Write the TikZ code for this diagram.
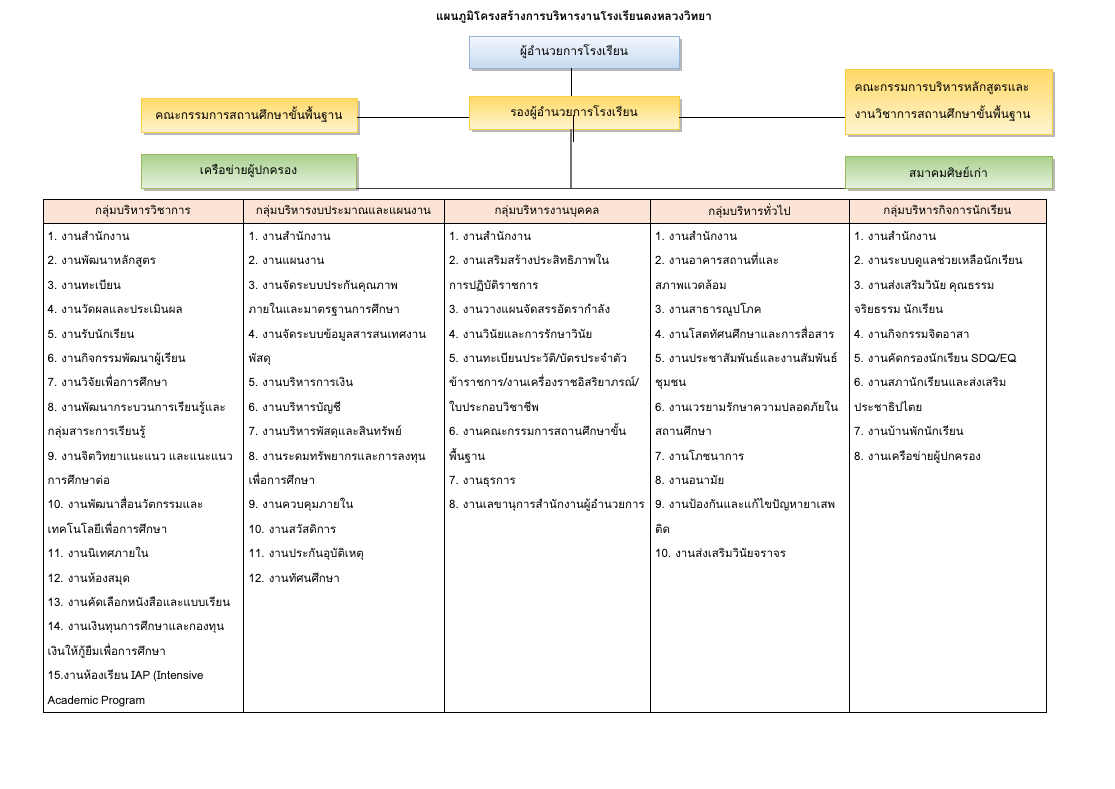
\documentclass[tikz,border=0pt]{standalone}
\usepackage{fontspec}
\newfontfamily\thai[Script=Thai]{Loma}
\newfontfamily\thaitab[Script=Thai,WordSpace=0.75]{Loma}
\usetikzlibrary{shadows}
\definecolor{hdr}{HTML}{FBE4D5}
\definecolor{ytop}{HTML}{FFD966}
\definecolor{ybot}{HTML}{FFF4D0}
\definecolor{yline}{HTML}{F9CF4A}
\definecolor{btop}{HTML}{F4F8FD}
\definecolor{bbot}{HTML}{C6D9F0}
\definecolor{bline}{HTML}{95B3D7}
\definecolor{gtop}{HTML}{A9D18E}
\definecolor{gbot}{HTML}{E6F0DD}
\definecolor{gline}{HTML}{9BBB59}
\begin{document}
\begin{tikzpicture}[x=1pt,y=-1pt,
  box/.style={draw, line width=0.8pt, inner sep=0pt, outer sep=0pt, font=\thai\fontsize{12}{14}\selectfont,
    drop shadow={shadow xshift=2.5pt, shadow yshift=-2.5pt, fill=black!28, opacity=1}},
  ybox/.style={box, draw=yline, top color=ytop, bottom color=ybot},
  bbox/.style={box, draw=bline, top color=btop, bottom color=bbot},
  gbox/.style={box, draw=gline, top color=gtop, bottom color=gbot},
  conn/.style={draw=black, line width=0.8pt},
  hcell/.style={draw=black, line width=0.7pt, fill=hdr, inner sep=0pt, outer sep=0pt, anchor=north west,
    minimum height=24pt, font=\thaitab\fontsize{11.5}{14}\selectfont},
  bcell/.style={draw=black, line width=0.7pt, inner sep=0pt, outer sep=0pt, anchor=north west, minimum height=489pt},
  item/.style={anchor=base west, inner sep=0pt, font=\thaitab\fontsize{11.5}{14}\selectfont}
]
\useasboundingbox (0,0) rectangle (1115,788);
\fill[white] (0,0) rectangle (1115,788);

\node[font=\thai\bfseries\fontsize{11.7}{14}\selectfont] (title) at (574,17) {แผนภูมิโครงสร้างการบริหารงานโรงเรียนดงหลวงวิทยา};

\node[bbox, minimum width=210pt, minimum height=32pt] (director) at (574,52) {ผู้อำนวยการโรงเรียน};
\node[ybox, minimum width=210pt, minimum height=33pt] (vice) at (574,112.5) {รองผู้อำนวยการโรงเรียน};
\node[ybox, minimum width=216pt, minimum height=34pt] (board) at (249,115) {คณะกรรมการสถานศึกษาขั้นพื้นฐาน};
\node[gbox, minimum width=215pt, minimum height=34pt] (parents) at (248.5,171) {เครือข่ายผู้ปกครอง};
\node[ybox, minimum width=207pt, minimum height=65pt, align=left, text width=188pt,
  font=\thai\fontsize{12}{27}\selectfont] (curr) at (948.5,101.5) {คณะกรรมการบริหารหลักสูตรและ\\งานวิชาการสถานศึกษาขั้นพื้นฐาน};
\node[gbox, minimum width=207pt, minimum height=32pt] (alumni) at (948.5,172) {สมาคมศิษย์เก่า};

\coordinate (vx) at (571,0);
\coordinate (hy) at (0,117);
\coordinate (hub) at (571,188);
\coordinate (mA) at (573,115);
\coordinate (mB) at (573,142);

\draw[conn] (director.south -| vx) -- (vice.north -| vx);
\draw[conn] (board.east |- hy) -- (vice.west |- hy);
\draw[conn] (vice.east |- hy) -- (curr.west |- hy);
\draw[conn, draw=black!75] (parents.south east) -- (alumni.south west);
\draw[line width=1.4pt, draw=black!55] (vice.south -| vx) -- (hub);
\draw[conn, line width=0.6pt] (mA) -- (mB);

% table
\foreach \xa/\xb/\n/\h in {43/243/1/กลุ่มบริหารวิชาการ, 243/444/2/กลุ่มบริหารงบประมาณและแผนงาน, 444/650/3/กลุ่มบริหารงานบุคคล, 650/849/4/กลุ่มบริหารทั่วไป, 849/1046/5/กลุ่มบริหารกิจการนักเรียน}{
  \node[hcell, minimum width={\xb-\xa}] (h\n) at (\xa,199) {\h};
  \node[bcell, minimum width={\xb-\xa}] (b\n) at (\xa,223) {};
}

\foreach \t [count=\i from 0] in {1. งานสำนักงาน, 2. งานพัฒนาหลักสูตร, 3. งานทะเบียน, 4. งานวัดผลและประเมินผล, 5. งานรับนักเรียน, 6. งานกิจกรรมพัฒนาผู้เรียน, 7. งานวิจัยเพื่อการศึกษา, 8. งานพัฒนากระบวนการเรียนรู้และ, กลุ่มสาระการเรียนรู้, 9. งานจิตวิทยาแนะแนว และแนะแนว, การศึกษาต่อ, 10. งานพัฒนาสื่อนวัตกรรมและ, เทคโนโลยีเพื่อการศึกษา, 11. งานนิเทศภายใน, 12. งานห้องสมุด, 13. งานคัดเลือกหนังสือและแบบเรียน, 14. งานเงินทุนการศึกษาและกองทุน, เงินให้กู้ยืมเพื่อการศึกษา, 15.งานห้องเรียน IAP (Intensive, Academic Program}
  \node[item] (ca\i) at (47.5,{240.5+\i*24.4}) {\t};

\foreach \t [count=\i from 0] in {1. งานสำนักงาน, 2. งานแผนงาน, 3. งานจัดระบบประกันคุณภาพ, ภายในและมาตรฐานการศึกษา, 4. งานจัดระบบข้อมูลสารสนเทศงาน, พัสดุ, 5. งานบริหารการเงิน, 6. งานบริหารบัญชี, 7. งานบริหารพัสดุและสินทรัพย์, 8. งานระดมทรัพยากรและการลงทุน, เพื่อการศึกษา, 9. งานควบคุมภายใน, 10. งานสวัสดิการ, 11. งานประกันอุบัติเหตุ, 12. งานทัศนศึกษา}
  \node[item] (cb\i) at (248.5,{240.5+\i*24.4}) {\t};

\foreach \t [count=\i from 0] in {1. งานสำนักงาน, 2. งานเสริมสร้างประสิทธิภาพใน, การปฏิบัติราชการ, 3. งานวางแผนจัดสรรอัตรากำลัง, 4. งานวินัยและการรักษาวินัย, 5. งานทะเบียนประวัติ/บัตรประจำตัว, ข้าราชการ/งานเครื่องราชอิสริยาภรณ์/, ใบประกอบวิชาชีพ, 6. งานคณะกรรมการสถานศึกษาขั้น, พื้นฐาน, 7. งานธุรการ, 8. งานเลขานุการสำนักงานผู้อำนวยการ}
  \node[item] (cc\i) at (449,{240.5+\i*24.4}) {\t};

\foreach \t [count=\i from 0] in {1. งานสำนักงาน, 2. งานอาคารสถานที่และ, สภาพแวดล้อม, 3. งานสาธารณูปโภค, 4. งานโสตทัศนศึกษาและการสื่อสาร, 5. งานประชาสัมพันธ์และงานสัมพันธ์, ชุมชน, 6. งานเวรยามรักษาความปลอดภัยใน, สถานศึกษา, 7. งานโภชนาการ, 8. งานอนามัย, 9. งานป้องกันและแก้ไขปัญหายาเสพ, ติด, 10. งานส่งเสริมวินัยจราจร}
  \node[item] (cd\i) at (655,{240.5+\i*24.4}) {\t};

\foreach \t [count=\i from 0] in {1. งานสำนักงาน, 2. งานระบบดูแลช่วยเหลือนักเรียน, 3. งานส่งเสริมวินัย คุณธรรม, จริยธรรม นักเรียน, 4. งานกิจกรรมจิตอาสา, 5. งานคัดกรองนักเรียน SDQ/EQ, 6. งานสภานักเรียนและส่งเสริม, ประชาธิปไตย, 7. งานบ้านพักนักเรียน, 8. งานเครือข่ายผู้ปกครอง}
  \node[item] (ce\i) at (854,{240.5+\i*24.4}) {\t};
\end{tikzpicture}
\end{document}
